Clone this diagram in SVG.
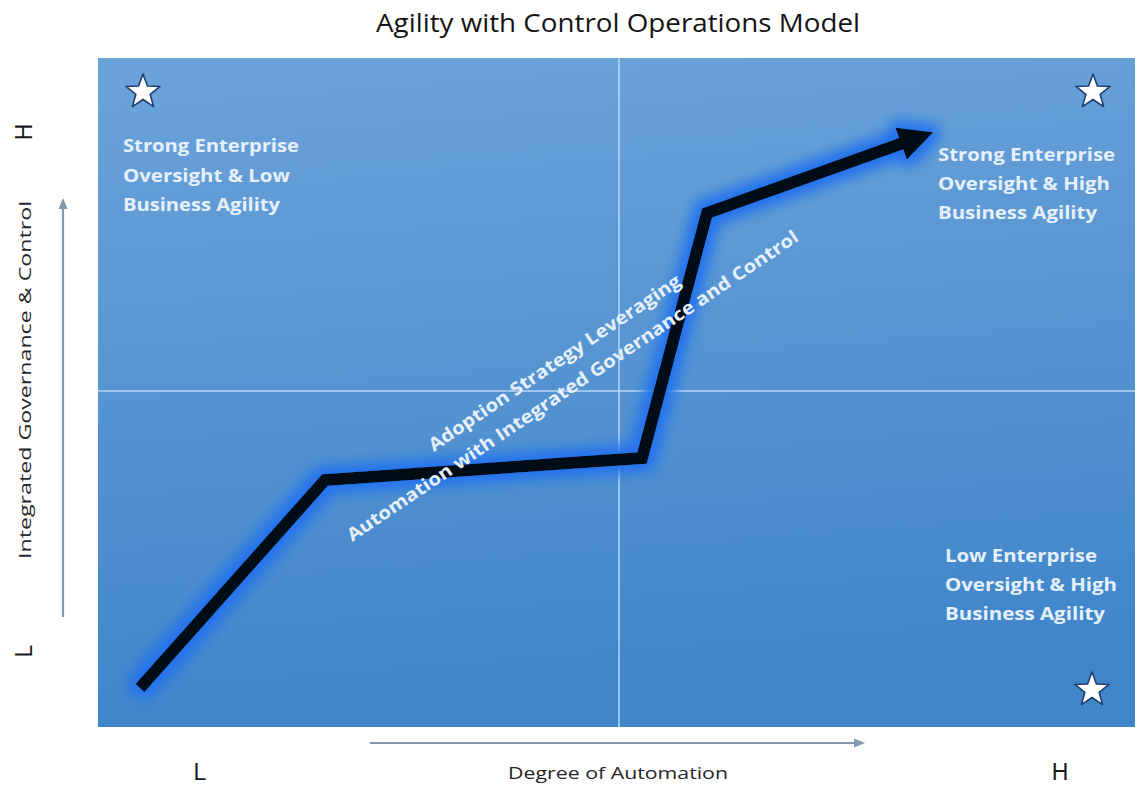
<svg xmlns="http://www.w3.org/2000/svg" width="1139" height="785" viewBox="0 0 1139 785">
  <style>
    .title { font-family: "Open Sans", "Liberation Sans", sans-serif; font-size: 25px; fill: #141414; }
    .axis { font-family: "Open Sans", "Liberation Sans", sans-serif; font-size: 17px; fill: #262626; }
    .tick { font-family: "Liberation Sans", Arial, sans-serif; font-size: 23px; fill: #1a1a1a; }
    .quad { font-family: "Open Sans", "Liberation Sans", sans-serif; font-size: 17.5px; font-weight: bold; fill: #e6f0fa; }
    .path-label { font-family: "Open Sans", "Liberation Sans", sans-serif; font-size: 18px; font-weight: bold; fill: #e6f0fa; }
    .divider { stroke: #b8d6f4; stroke-width: 1.5; fill: none; }
    .axis-line { stroke: #8498ae; stroke-width: 2.2; fill: none; }
    .star { fill: #ffffff; stroke: #1f3f6e; stroke-width: 1.6; stroke-linejoin: round; }
  </style>
  <defs>
    <linearGradient id="panelFill" x1="0" y1="0" x2="0.12" y2="1">
      <stop offset="0" stop-color="#6ca3da"/>
      <stop offset="1" stop-color="#3f85ca"/>
    </linearGradient>
    <path id="starShape" d="M0,-18 L4.41,-6.07 L17.12,-5.56 L7.13,2.32 L10.58,14.56 L0,7.5 L-10.58,14.56 L-7.13,2.32 L-17.12,-5.56 L-4.41,-6.07 Z"/>
    <marker id="axisHead" markerUnits="userSpaceOnUse" markerWidth="12" markerHeight="12" refX="2" refY="6" orient="auto">
      <path d="M0,1.5 L11,6 L0,10.5 Z" fill="#8498ae"/>
    </marker>
    <marker id="trendHead" markerUnits="userSpaceOnUse" markerWidth="36" markerHeight="34" refX="2" refY="17" orient="auto">
      <path d="M0,0 L34,17 L0,34 Z" fill="#050a14"/>
    </marker>
    <!-- soft blue halo around the trajectory -->
    <filter id="blueGlow" filterUnits="userSpaceOnUse" x="0" y="0" width="1139" height="785">
      <feMorphology in="SourceAlpha" operator="dilate" radius="4" result="fat"/>
      <feGaussianBlur in="fat" stdDeviation="7" result="soft"/>
      <feFlood flood-color="#2674ee" result="tint"/>
      <feComposite in="tint" in2="soft" operator="in" result="halo"/>
      <feMerge>
        <feMergeNode in="halo"/>
        <feMergeNode in="halo"/>
        <feMergeNode in="SourceGraphic"/>
      </feMerge>
    </filter>
  </defs>

  <rect width="1139" height="785" fill="#ffffff"/>

  <!-- title -->
  <text class="title" x="618" y="32" text-anchor="middle" textLength="484" lengthAdjust="spacingAndGlyphs">Agility with Control Operations Model</text>

  <!-- quadrant panel with centre dividers -->
  <g id="panel">
    <rect x="98" y="58" width="1037" height="669" fill="url(#panelFill)"/>
    <line class="divider" x1="619" y1="58" x2="619" y2="727"/>
    <line class="divider" x1="98" y1="391" x2="1135" y2="391"/>
  </g>

  <!-- axis captions -->
  <g id="y-axis">
    <text class="axis" transform="translate(31,380) rotate(-90)" text-anchor="middle" textLength="358" lengthAdjust="spacingAndGlyphs">Integrated Governance &amp; Control</text>
    <text class="tick" transform="translate(32,132) rotate(-90)" text-anchor="middle">H</text>
    <text class="tick" transform="translate(32,651) rotate(-90)" text-anchor="middle">L</text>
  </g>
  <g id="x-axis">
    <text class="axis" x="618" y="779" text-anchor="middle" textLength="220" lengthAdjust="spacingAndGlyphs">Degree of Automation</text>
    <text class="tick" x="200" y="780" text-anchor="middle">L</text>
    <text class="tick" x="1060" y="780" text-anchor="middle">H</text>
  </g>

  <!-- quadrant markers -->
  <g id="star-top-left"><use href="#starShape" class="star" transform="translate(143,92)"/></g>
  <g id="star-top-right"><use href="#starShape" class="star" transform="translate(1093,92)"/></g>
  <g id="star-bottom-right"><use href="#starShape" class="star" transform="translate(1092,690)"/></g>

  <!-- quadrant descriptions -->
  <g id="quadrant-top-left">
    <text class="quad" x="123" y="152" textLength="176" lengthAdjust="spacingAndGlyphs">Strong Enterprise</text>
    <text class="quad" x="123" y="182" textLength="167" lengthAdjust="spacingAndGlyphs">Oversight &amp; Low</text>
    <text class="quad" x="123" y="211" textLength="157" lengthAdjust="spacingAndGlyphs">Business Agility</text>
  </g>
  <g id="quadrant-top-right">
    <text class="quad" x="938" y="161" textLength="177" lengthAdjust="spacingAndGlyphs">Strong Enterprise</text>
    <text class="quad" x="938" y="190" textLength="172" lengthAdjust="spacingAndGlyphs">Oversight &amp; High</text>
    <text class="quad" x="938" y="219" textLength="159" lengthAdjust="spacingAndGlyphs">Business Agility</text>
  </g>
  <g id="quadrant-bottom-right">
    <text class="quad" x="945" y="562" textLength="152" lengthAdjust="spacingAndGlyphs">Low Enterprise</text>
    <text class="quad" x="945" y="591" textLength="172" lengthAdjust="spacingAndGlyphs">Oversight &amp; High</text>
    <text class="quad" x="945" y="620" textLength="160" lengthAdjust="spacingAndGlyphs">Business Agility</text>
  </g>

  <!-- connectors: axis arrows and the adoption trajectory -->
  <g id="connectors">
    <line class="axis-line" x1="63" y1="617" x2="63" y2="207" marker-end="url(#axisHead)"/>
    <line class="axis-line" x1="370" y1="743" x2="856" y2="743" marker-end="url(#axisHead)"/>
    <g filter="url(#blueGlow)">
      <polyline points="140,688 325,480 642,458 707,213 903,143" fill="none" stroke="#050a14" stroke-width="12" stroke-linejoin="miter" marker-end="url(#trendHead)"/>
    </g>
  </g>

  <!-- adoption path caption, drawn over the trajectory -->
  <g id="adoption-label">
    <text class="path-label" transform="translate(558,368) rotate(-34)" text-anchor="middle" textLength="300" lengthAdjust="spacingAndGlyphs">Adoption Strategy Leveraging</text>
    <text class="path-label" transform="translate(576,391) rotate(-34)" text-anchor="middle" textLength="540" lengthAdjust="spacingAndGlyphs">Automation with Integrated Governance and Control</text>
  </g>
</svg>
